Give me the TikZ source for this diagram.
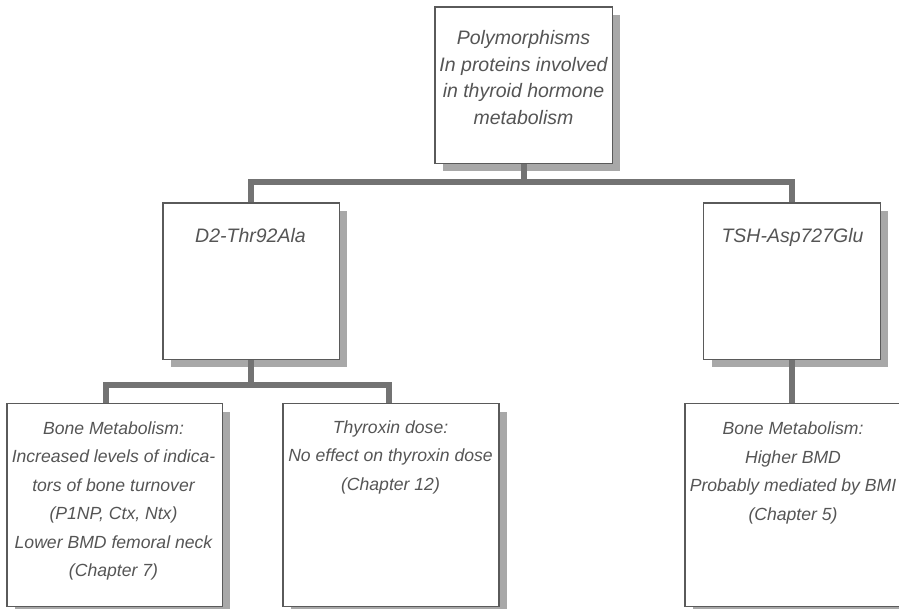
\documentclass[tikz,border=0pt]{standalone}
\usepackage{fontspec}
\setmainfont{Liberation Sans}
\usetikzlibrary{shadows,calc}
\definecolor{bordc}{HTML}{5A5A5A}
\definecolor{connc}{HTML}{737373}
\definecolor{shadc}{HTML}{A8A8A8}
\definecolor{textc}{HTML}{555555}
\begin{document}
\begin{tikzpicture}[x=1pt,y=-1pt,
  box/.style={draw=bordc, line width=1pt, fill=white, rectangle, inner sep=0pt,
    drop shadow={shadow xshift=8pt, shadow yshift=-8pt, fill=shadc, opacity=1}},
  conn/.style={draw=connc, line width=6pt},
  lbl/.style={anchor=north, align=center, inner sep=0pt, text=textc},
  bigtxt/.style={font=\fontsize{19.5}{26.7}\selectfont\itshape},
  smalltxt/.style={font=\fontsize{17.6}{28.5}\selectfont\itshape}]
\useasboundingbox (0,0) rectangle (899,608);

% boxes
\node[box, minimum width=177pt, minimum height=156pt] (top) at (523.5,85) {};
\node[box, minimum width=176pt, minimum height=156pt] (d2) at (251,281) {};
\node[box, minimum width=176.5pt, minimum height=156pt] (tsh) at (792.2,281) {};
\node[box, minimum width=215pt, minimum height=202.5pt] (bl) at (114.5,505.2) {};
\node[box, minimum width=215.5pt, minimum height=202.5pt] (thy) at (391.2,505.2) {};
\node[box, minimum width=220pt, minimum height=202.5pt] (br) at (795,505.2) {};

% connectors
\coordinate (j1) at (523.5,182);
\coordinate (j2) at (251,385);
\draw[conn] (top.south) -- (j1);
\draw[conn] (d2.north) |- (j1) -| (tsh.north);
\draw[conn] (d2.south) -- (j2);
\draw[conn] ([xshift=-9pt]bl.north) |- (j2) -| ([xshift=-2pt]thy.north);
\draw[conn] (tsh.south) -- (tsh.south |- br.north);

% redraw box borders on top of connector ends
\foreach \n in {top,d2,tsh,bl,thy,br}{
  \draw[draw=bordc, line width=1pt] (\n.north west) rectangle (\n.south east);
}

% texts
\node[lbl, bigtxt] (ttop) at (523.5,30) {Polymorphisms\\In proteins involved\\in thyroid hormone\\metabolism};
\node[lbl, bigtxt] (td2) at (250.5,227.7) {D2-Thr92Ala};
\node[lbl, bigtxt] (ttsh) at (792.5,227.7) {TSH-Asp727Glu};
\node[lbl, smalltxt] (tbl) at (113.5,421.3) {Bone Metabolism:\\Increased levels of indica-\\tors of bone turnover\\(P1NP, Ctx, Ntx)\\Lower BMD femoral neck\\(Chapter 7)};
\node[lbl, smalltxt] (tthy) at (390.5,420.5) {Thyroxin dose:\\No effect on thyroxin dose\\(Chapter 12)};
\node[lbl, smalltxt] (tbr) at (793,422) {Bone Metabolism:\\Higher BMD\\Probably mediated by BMI\\(Chapter 5)};
\end{tikzpicture}
\end{document}
